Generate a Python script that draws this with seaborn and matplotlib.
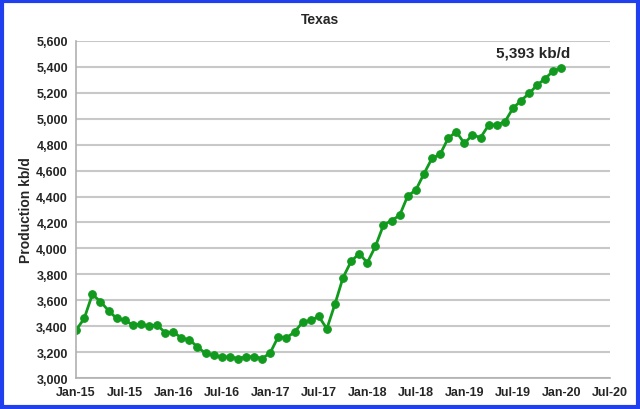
import numpy as np
import pandas as pd
import matplotlib
matplotlib.use("Agg")
import matplotlib.pyplot as plt
import seaborn as sns
from matplotlib.patches import Rectangle
from matplotlib.ticker import FuncFormatter

# ================= DATA =================
# monthly Texas production, Jan-15 .. Jan-20 (kb/d)
production = [
    3370, 3460, 3645, 3590, 3520, 3460, 3445, 3410, 3415, 3400, 3410, 3350,
    3355, 3310, 3295, 3240, 3190, 3175, 3160, 3165, 3150, 3165, 3165, 3150,
    3195, 3320, 3310, 3355, 3430, 3445, 3475, 3380, 3570, 3775, 3900, 3960,
    3890, 4015, 4180, 4215, 4255, 4405, 4450, 4575, 4695, 4725, 4850, 4900,
    4810, 4875, 4855, 4950, 4955, 4975, 5080, 5140, 5195, 5260, 5310, 5370,
    5393,
]
tick_labels = ["Jan-15", "Jul-15", "Jan-16", "Jul-16", "Jan-17", "Jul-17",
               "Jan-18", "Jul-18", "Jan-19", "Jul-19", "Jan-20", "Jul-20"]
last_label = "5,393 kb/d"

df = pd.DataFrame({"month": np.arange(len(production)), "kbd": production})

# ================= STYLE =================
sns.set_style("white")
plt.rcParams["font.family"] = ["Liberation Sans", "DejaVu Sans"]
plt.rcParams["font.weight"] = "bold"

fig = plt.figure(figsize=(6.4, 4.1), dpi=100)
ax = fig.add_axes([0.119, 0.0756, 0.834, 0.822])

sns.lineplot(data=df, x="month", y="kbd", ax=ax, color="#119a1e",
             linewidth=2.0, marker="o", markersize=5.5,
             markeredgecolor="#119a1e")

ax.set_xlim(0, 66)
ax.set_ylim(3000, 5600)
ax.set_xticks(np.arange(0, 67, 6))
ax.set_xticklabels(tick_labels, fontsize=9, fontweight="bold")
ax.set_yticks(np.arange(3000, 5601, 200))
ax.yaxis.set_major_formatter(FuncFormatter(lambda v, p: f"{int(v):,}"))
for lab in ax.get_yticklabels():
    lab.set_fontsize(9)
    lab.set_fontweight("bold")

ax.grid(axis="y", color="#c8c8c8", linewidth=1.5)
ax.set_axisbelow(True)
for s in ["top", "right"]:
    ax.spines[s].set_visible(False)
for s in ["left", "bottom"]:
    ax.spines[s].set_color("#b0b0b0")
    ax.spines[s].set_linewidth(1.2)
ax.tick_params(axis="both", length=4, color="#b0b0b0", width=1, pad=2)

ax.set_xlabel("")
ax.set_ylabel("Production kb/d", fontsize=10, fontweight="bold", labelpad=2)

fig.text(0.5, 0.95, "Texas", ha="center", va="center",
         fontsize=10, fontweight="bold")
ax.annotate(last_label, xy=(df["month"].iloc[-1], production[-1]),
            xytext=(-20, 6), textcoords="offset points",
            ha="center", va="bottom", fontsize=11, fontweight="bold")

# blue frame around the picture
fig.patches.append(Rectangle((0.003, 0.004), 0.994, 0.992, transform=fig.transFigure,
                             fill=False, edgecolor="#2040f0", linewidth=3))

fig.savefig("out.png", dpi=100)
